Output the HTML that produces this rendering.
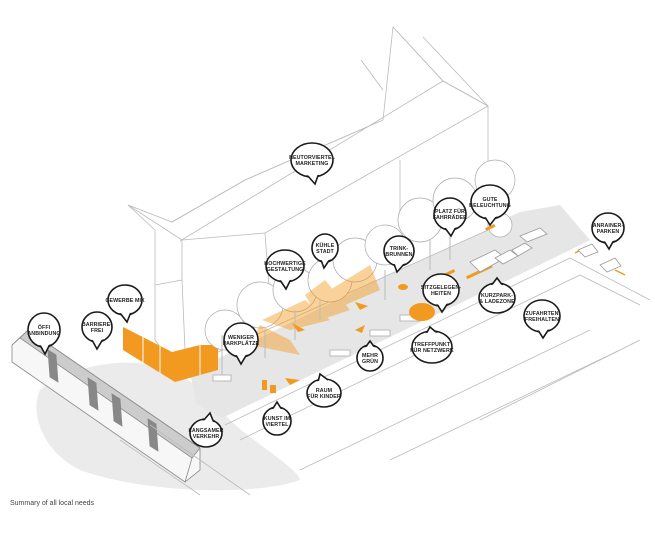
<!DOCTYPE html>
<html><head><meta charset="utf-8"><style>
html,body{margin:0;padding:0;background:#fff;}
svg{display:block}
.b text{font-family:"Liberation Sans",sans-serif;font-weight:bold;font-size:5.3px;fill:#222;text-anchor:middle;letter-spacing:0.1px}
.bub{fill:#fff;stroke:#1a1a1a;stroke-width:1.6}
.ln{stroke:#bbb;stroke-width:0.8;fill:none}
.tr{fill:#fff;stroke:#aaa;stroke-width:0.7}
</style></head><body>
<svg width="655" height="545" viewBox="0 0 655 545" xmlns="http://www.w3.org/2000/svg">
<path d="M40,390 C60,370 150,340 200,390 L230,420 C250,440 300,470 300,480 C260,495 150,495 80,470 C40,450 30,410 40,390Z" fill="#ebebeb"/>
<polygon points="190,372 470,235 520,212 560,205 590,240 560,255 222,418 196,404" fill="#e6e6e6"/>
<g class="ln">
<path d="M225,425 L570,258 L650,300"/>
<path d="M240,440 L580,275 L640,305"/>
<path d="M300,470 L590,330"/>
<path d="M390,460 L620,350"/>
<path d="M480,420 L640,340"/>
</g>
<g fill="#fff" stroke="#bbb" stroke-width="0.8">
<polygon points="128,205 172,222 245,180 367,127 383,120 393,27 443,81 488,106 488,230 218,352 172,362 155,340 155,230"/>
</g>
<g class="ln">
<path d="M180,241 L443,81 L488,106"/>
<path d="M128,205 L182,240"/>
<path d="M393,27 L443,81"/><path d="M423,37 L488,106"/>
<path d="M361,60 L383,90"/>
<path d="M172,222 L245,180 L367,127"/>
<path d="M182,240 L182,280 L155,285"/>
<path d="M182,240 L265,233 L488,106"/>
<path d="M265,233 L270,300"/>
<path d="M400,160 L400,220"/>
<path d="M182,280 L185,350"/>
</g>
<polygon points="123,327 172,352 200,345 218,345 218,370 175,382 123,350" fill="#f29a1f"/>
<g stroke="#fff" stroke-width="1"><path d="M143,335 V362"/><path d="M160,343 V373"/><path d="M200,345 V375"/></g>
<g class="tr">
<circle cx="225" cy="330" r="20"/><circle cx="260" cy="305" r="23"/><circle cx="295" cy="290" r="22"/>
<circle cx="330" cy="280" r="22"/><circle cx="355" cy="260" r="22"/><circle cx="385" cy="245" r="20"/>
<circle cx="420" cy="220" r="22"/><circle cx="455" cy="200" r="22"/><circle cx="495" cy="180" r="20"/>
<circle cx="500" cy="225" r="12"/>
</g>
<g fill="#f29a1f" opacity="0.45">
<polygon points="260,325 290,340 300,355 250,345"/>
<polygon points="262,320 305,300 330,320 290,330"/>
<polygon points="305,295 325,280 350,310 320,320"/>
<polygon points="330,290 370,265 380,290 345,305"/>
</g>
<g stroke="#bbb" stroke-width="1" fill="#fff">
<path d="M222,335 V380"/><path d="M265,330 V358"/><path d="M295,310 V340"/><path d="M320,300 V320"/>
<path d="M385,270 V300"/><path d="M430,240 V270"/><path d="M450,230 V260"/>
<rect x="213" y="375" width="18" height="6"/><rect x="330" y="350" width="20" height="6"/>
<rect x="370" y="330" width="20" height="6"/><rect x="400" y="315" width="20" height="6"/>
</g>
<g fill="#f29a1f">
<ellipse cx="422" cy="312" rx="13" ry="9"/>
<ellipse cx="403" cy="287" rx="5" ry="3"/>
<rect x="262" y="380" width="5" height="10"/><rect x="270" y="385" width="6" height="8"/>
<polygon points="285,378 300,380 290,385"/><polygon points="292,323 305,330 298,332"/>
<polygon points="355,302 368,306 360,310"/><polygon points="355,330 365,325 362,333"/>
<rect x="440" y="272" width="15" height="3" transform="rotate(-25 448 273)"/>
<rect x="485" y="226" width="10" height="3" transform="rotate(-25 490 227)"/>
<rect x="465" y="270" width="28" height="3" transform="rotate(-25 480 271)"/>
</g>
<path d="M575,253 L585,248 M615,270 L625,275" stroke="#f29a1f" stroke-width="1.5"/>
<g fill="#fff" stroke="#999" stroke-width="0.8">
<polygon points="470,262 495,250 505,258 480,272"/>
<polygon points="495,258 510,250 518,256 503,264"/>
<polygon points="512,250 525,243 532,248 518,256"/>
<polygon points="520,236 540,228 547,234 527,242"/>
<polygon points="578,250 592,244 598,252 585,257"/>
<polygon points="600,265 615,258 621,266 607,272"/>
</g>
<!-- tram -->
<g stroke="#888" stroke-width="0.8">
<polygon points="28,330 200,448 200,470 185,482 12,362 12,345" fill="#f7f7f7"/>
<polygon points="28,330 200,448 192,458 20,338" fill="#ccc"/>
<path d="M20,338 L12,345 M192,458 L185,482" />
<g fill="#888"><polygon points="48,350 56,355 58,382 50,377"/><polygon points="88,378 96,383 98,410 90,405"/><polygon points="112,394 120,399 122,426 114,421"/><polygon points="148,419 156,424 158,451 150,446"/></g>
</g>
<g class="ln"><path d="M120,440 L200,495"/><path d="M150,425 L250,495"/></g>
<text x="10" y="505" font-family="Liberation Sans,sans-serif" font-size="7" fill="#444">Summary of all local needs</text>
<g class="b">
<g transform="translate(312,160)"><ellipse class="bub" rx="21" ry="17"/><path class="bub" d="M-5,15 L3,24 L7,13"/><ellipse rx="19.8" ry="15.8" fill="#fff"/><text y="-1">NEUTORVIERTEL</text><text y="5">MARKETING</text></g>
<g transform="translate(325,248)"><ellipse class="bub" rx="13" ry="14"/><path class="bub" d="M-4,12 L-1,20 L5,11"/><ellipse rx="11.8" ry="12.8" fill="#fff"/><text y="-1">KÜHLE</text><text y="5">STADT</text></g>
<g transform="translate(285,266)"><ellipse class="bub" rx="19" ry="16"/><path class="bub" d="M-5,14 L1,23 L6,13"/><ellipse rx="17.8" ry="14.8" fill="#fff"/><text y="-1">HOCHWERTIGE</text><text y="5">GESTALTUNG</text></g>
<g transform="translate(125,300)"><ellipse class="bub" rx="17" ry="15"/><path class="bub" d="M-5,13 L2,22 L6,12"/><ellipse rx="15.8" ry="13.8" fill="#fff"/><text y="2">GEWERBE MIX</text></g>
<g transform="translate(97,327)"><ellipse class="bub" rx="15" ry="15"/><path class="bub" d="M-5,13 L0,22 L6,12"/><ellipse rx="13.8" ry="13.8" fill="#fff"/><text y="-1">BARRIERE-</text><text y="5">FREI</text></g>
<g transform="translate(44,330)"><ellipse class="bub" rx="16" ry="17"/><path class="bub" d="M-4,15 L1,24 L6,14"/><ellipse rx="14.8" ry="15.8" fill="#fff"/><text y="-1">ÖFFI</text><text y="5">ANBINDUNG</text></g>
<g transform="translate(241,340)"><ellipse class="bub" rx="17" ry="17"/><path class="bub" d="M-5,15 L0,24 L6,14"/><ellipse rx="15.8" ry="15.8" fill="#fff"/><text y="-1">WENIGER</text><text y="5">PARKPLÄTZE</text></g>
<g transform="translate(324,393)"><ellipse class="bub" rx="17" ry="14"/><path class="bub" d="M-6,-11 L-4,-19 L4,-13"/><ellipse rx="15.8" ry="12.8" fill="#fff"/><text y="-1">RAUM</text><text y="5">FÜR KINDER</text></g>
<g transform="translate(277,421)"><ellipse class="bub" rx="14" ry="14"/><path class="bub" d="M-5,-11 L0,-19 L5,-11"/><ellipse rx="12.8" ry="12.8" fill="#fff"/><text y="-1">KUNST IM</text><text y="5">VIERTEL</text></g>
<g transform="translate(206,433)"><ellipse class="bub" rx="16" ry="14"/><path class="bub" d="M-3,-12 L4,-20 L8,-10"/><ellipse rx="14.8" ry="12.8" fill="#fff"/><text y="-1">LANGSAMER</text><text y="5">VERKEHR</text></g>
<g transform="translate(399,251)"><ellipse class="bub" rx="15" ry="15"/><path class="bub" d="M-5,13 L-2,21 L6,12"/><ellipse rx="13.8" ry="13.8" fill="#fff"/><text y="-1">TRINK-</text><text y="5">BRUNNEN</text></g>
<g transform="translate(450,214)"><ellipse class="bub" rx="16" ry="16"/><path class="bub" d="M-5,14 L1,22 L6,13"/><ellipse rx="14.8" ry="14.8" fill="#fff"/><text y="-1">PLATZ FÜR</text><text y="5">FAHRRÄDER</text></g>
<g transform="translate(490,202)"><ellipse class="bub" rx="19" ry="17"/><path class="bub" d="M-5,15 L0,23 L7,14"/><ellipse rx="17.8" ry="15.8" fill="#fff"/><text y="-1">GUTE</text><text y="5">BELEUCHTUNG</text></g>
<g transform="translate(608,228)"><ellipse class="bub" rx="16" ry="15"/><path class="bub" d="M-4,13 L1,21 L6,12"/><ellipse rx="14.8" ry="13.8" fill="#fff"/><text y="-1">ANRAINER-</text><text y="5">PARKEN</text></g>
<g transform="translate(441,290)"><ellipse class="bub" rx="18" ry="16"/><path class="bub" d="M-4,14 L1,22 L7,13"/><ellipse rx="16.8" ry="14.8" fill="#fff"/><text y="-1">SITZGELEGEN-</text><text y="5">HEITEN</text></g>
<g transform="translate(497,298)"><ellipse class="bub" rx="18" ry="15"/><path class="bub" d="M-6,-12 L0,-20 L6,-12"/><ellipse rx="16.8" ry="13.8" fill="#fff"/><text y="-1">KURZPARK-</text><text y="5">&amp; LADEZONE</text></g>
<g transform="translate(542,316)"><ellipse class="bub" rx="18" ry="16"/><path class="bub" d="M-4,14 L1,22 L7,13"/><ellipse rx="16.8" ry="14.8" fill="#fff"/><text y="-1">ZUFAHRTEN</text><text y="5">FREIHALTEN</text></g>
<g transform="translate(432,347)"><ellipse class="bub" rx="20" ry="16"/><path class="bub" d="M-6,-13 L-2,-20 L5,-14"/><ellipse rx="18.8" ry="14.8" fill="#fff"/><text y="-1">TREFFPUNKT</text><text y="5">FÜR NETZWERK</text></g>
<g transform="translate(370,358)"><ellipse class="bub" rx="13" ry="13"/><path class="bub" d="M-5,-10 L0,-17 L5,-10"/><ellipse rx="11.8" ry="11.8" fill="#fff"/><text y="-1">MEHR</text><text y="5">GRÜN</text></g>
</g>
</svg>
</body></html>
